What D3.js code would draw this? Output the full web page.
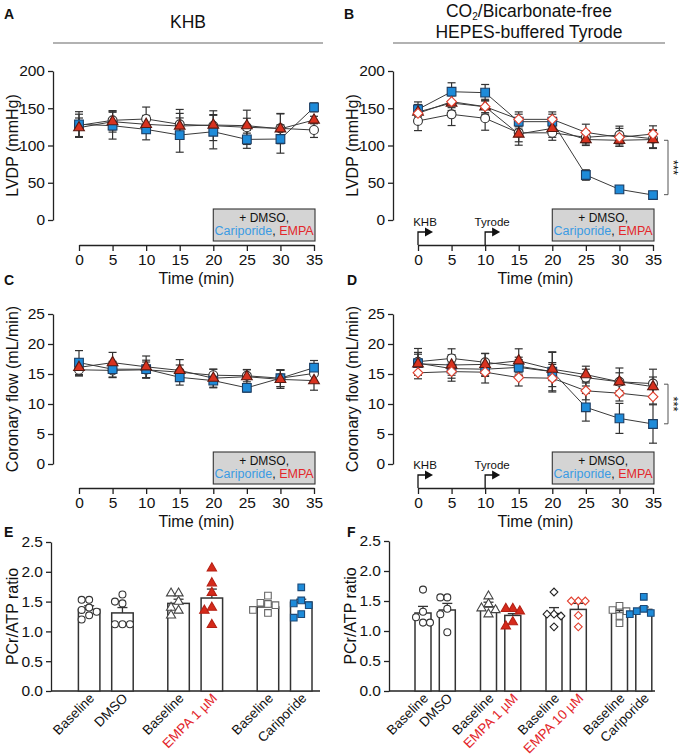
<!DOCTYPE html>
<html><head><meta charset="utf-8">
<script src="https://cdn.jsdelivr.net/npm/d3@7"></script>
<style>
body{margin:0;background:#fff;}
svg{display:block;font-family:"Liberation Sans",Arial,Helvetica,sans-serif;}
</style></head><body>
<svg id="c" width="680" height="756"></svg>
<script>
// ---------------- DATA ----------------
const times = [0,5,10,15,20,25,30,35];
const lvdpTicks = [0,50,100,150,200];
const flowTicks = [0,5,10,15,20,25];
const ratioTicks = [0,0.5,1,1.5,2,2.5];

// Panel A: LVDP, KHB
const aDmso = [127,133.8,135.6,128.4,126.6,124.4,123,120.8];
const aDmsoSem = [15,13,16,20,20,23,20,10];
const aCari = [128.4,126.6,121.6,114,118.5,108.2,108.7,151.2];
const aCariSem = [17,18,14,23,23,12,19,6];
const aEmpa = [123.9,132,128.4,126.1,127.5,126.6,122.4,134.2];
const aEmpaSem = [13,14,12,17,13,10,20,5];

// Panel B: LVDP, Tyrode
const bDmso = [133,141.8,136.5,117,117,111,114,109];
const bDmsoSem = [13,15,16,12,10,9,12,12];
const bCari = [148.5,172.2,170.9,132,132,60.4,41.1,33.5];
const bCariSem = [10,12,11,10,10,7,4,3];
const bEmpa1 = [145,157,152,115.4,123,108,107,108];
const bEmpa1Sem = [10,10,10,15,12,8,8,12];
const bEmpa10 = [143.2,158.8,152.1,135.1,135.1,117.6,111,115.4];
const bEmpa10Sem = [8,8,8,10,10,11,12,11];

// Panel C: coronary flow, KHB
const cDmso = [15.7,15.6,15.7,15.3,14.8,14.7,14.3,15.1];
const cDmsoSem = [1.0,1.2,1.3,1.2,1.0,1.0,1.4,1.2];
const cCari = [16.9,15.8,15.8,14.45,13.9,12.7,14.3,16.05];
const cCariSem = [2.0,1.3,1.5,1.3,1.2,0.7,1.4,1.2];
const cEmpa = [16.1,16.9,16.2,15.6,14.3,14.55,14.1,13.9];
const cEmpaSem = [1.4,1.7,1.8,1.8,1.5,1.2,1.5,1.6];

// Panel D: coronary flow, Tyrode
const dDmso = [17.05,17.6,16.95,16.3,15.4,14.4,13.7,13.4];
const dDmsoSem = [2.2,1.6,1.5,1.5,1.5,1.4,2.3,2.4];
const dCari = [16.8,15.9,15.8,16.1,15.4,9.45,7.6,6.67];
const dCariSem = [1.5,1.6,1.2,1.3,3.2,2.3,2.5,3.2];
const dEmpa1 = [16.7,16.5,16.6,17.2,15.8,14.9,13.7,12.9];
const dEmpa1Sem = [1.9,1.7,1.8,2.0,2.9,1.4,1.5,1.6];
const dEmpa10 = [15.2,15.4,15.3,14.4,14.3,12.2,11.8,11.2];
const dEmpa10Sem = [1.0,1.6,1.8,1.4,2.3,1.5,1.3,1.2];

// Panel E: PCr/ATP, KHB
const eGroups = ["DMSO","EMPA","Cariporide"];
const eLabels = ["Baseline","DMSO","Baseline","EMPA 1 µM","Baseline","Cariporide"];
const eMeans = [1.37,1.31,1.47,1.56,1.41,1.49];
const eSems = [0.06,0.09,0.07,0.15,0.05,0.05];
const ePoints = [
  [1.53,1.53,1.40,1.36,1.33,1.27,1.20],
  [1.62,1.50,1.47,1.12,1.12,1.12],
  [1.64,1.64,1.50,1.40,1.35,1.27],
  [2.06,1.81,1.65,1.40,1.35,1.11],
  [1.60,1.48,1.46,1.44,1.36,1.31],
  [1.74,1.52,1.47,1.44,1.29,1.23]
];

// Panel F: PCr/ATP, Tyrode
const fGroups = ["DMSO","EMPA 1","EMPA 10","Cariporide"];
const fLabels = ["Baseline","DMSO","Baseline","EMPA 1 µM","Baseline","EMPA 10 µM","Baseline","Cariporide"];
const fMeans = [1.30,1.35,1.40,1.26,1.29,1.36,1.30,1.36];
const fSems = [0.11,0.11,0.08,0.03,0.10,0.10,0.04,0.04];
const fPoints = [
  [1.69,1.32,1.23,1.14,1.14],
  [1.56,1.56,1.37,1.28,0.98],
  [1.58,1.45,1.38,1.35,1.28],
  [1.37,1.37,1.33,1.15,1.08],
  [1.65,1.28,1.28,1.25,1.07],
  [1.50,1.50,1.50,1.26,1.07],
  [1.42,1.35,1.33,1.25,1.13],
  [1.57,1.37,1.33,1.30,1.28]
];

// ---------------- STYLES ----------------
const RED = "#d8321f", BLUE = "#1e8bd9", AX = "#222";
const STY = {
  dmso:   {type:"circle",   fill:"#fff", stroke:"#333", size:62},
  cari:   {type:"square",   fill:BLUE,   stroke:"#1d3d62", size:76},
  empa1:  {type:"triangle", fill:RED,    stroke:"#5a1a12", size:50},
  empa10: {type:"diamond",  fill:"#fff", stroke:"#e2402f", size:48},
  oCircle:  {type:"circle",   fill:"#fff", stroke:"#333", size:38},
  oTri:     {type:"triangle", fill:"#fff", stroke:"#444", size:36},
  rTri:     {type:"triangle", fill:"#d62a1b", stroke:"#b52014", size:38},
  oSquare:  {type:"square",   fill:"#fff", stroke:"#666", size:44},
  bSquare:  {type:"square",   fill:BLUE,   stroke:"#1d4a78", size:44},
  oDiamond: {type:"diamond",  fill:"#fff", stroke:"#222", size:30},
  rDiamond: {type:"diamond",  fill:"#fff", stroke:"#e2402f", size:30}
};
const symType = {circle:d3.symbolCircle, square:d3.symbolSquare, triangle:d3.symbolTriangle, diamond:d3.symbolSquare};
const TICKFS = 15.5;

const svg = d3.select("#c");

function marker(g, st, cx, cy){
  g.append("path")
    .attr("d", d3.symbol().type(symType[st.type]).size(st.size)())
    .attr("transform", `translate(${cx},${cy})` + (st.type==="diamond" ? " rotate(45)" : ""))
    .attr("fill", st.fill).attr("stroke", st.stroke).attr("stroke-width", 1.1);
}

function styleAxis(sel, fs){
  sel.select(".domain").attr("stroke", AX).attr("stroke-width", 1.3);
  sel.selectAll(".tick line").attr("stroke", AX).attr("stroke-width", 1.3);
  sel.selectAll(".tick text").attr("fill", "#111").style("font-size", fs + "px")
    .style("font-family", '"Liberation Sans",Arial,sans-serif');
}

function yTitle(text, cx, cy){
  svg.append("text").attr("transform", `translate(${cx},${cy}) rotate(-90)`)
    .attr("text-anchor","middle").style("font-size","16px").attr("fill","#111").text(text);
}

function panelLetter(t, x, y){
  svg.append("text").attr("x", x).attr("y", y).style("font-size","14px")
    .style("font-weight","bold").attr("fill","#111").text(t);
}

function linePanel(o){
  const x = d3.scaleLinear().domain([0,35]).range(o.xr);
  const y = d3.scaleLinear().domain(o.yd).range(o.yr);
  const g = svg.append("g");
  const ya = g.append("g").attr("transform", `translate(${o.yx},0)`)
    .call(d3.axisLeft(y).tickValues(o.yt).tickSize(5).tickSizeOuter(0).tickPadding(3));
  styleAxis(ya, TICKFS);
  const xa = g.append("g").attr("transform", `translate(0,${o.xy})`)
    .call(d3.axisBottom(x).tickValues(times).tickSize(6).tickSizeOuter(0).tickPadding(3));
  styleAxis(xa, TICKFS);
  g.append("text").attr("x", (o.xr[0]+o.xr[1])/2).attr("y", o.xy+39)
    .attr("text-anchor","middle").style("font-size","16px").attr("fill","#111").text("Time (min)");

  // treatment box
  const bx0 = x(20), bx1 = x(35)+1;
  g.append("rect").attr("x", bx0).attr("y", o.xy-36).attr("width", bx1-bx0).attr("height", 32)
    .attr("fill","#d4d4d4").attr("stroke","#333").attr("stroke-width",1.1);
  const bc = (bx0+bx1)/2;
  g.append("text").attr("x", bc).attr("y", o.xy-23.5).attr("text-anchor","middle")
    .style("font-size","12px").attr("fill","#111").text("+ DMSO,");
  const t2 = g.append("text").attr("x", bc).attr("y", o.xy-10).attr("text-anchor","middle").style("font-size","12.5px");
  t2.append("tspan").attr("fill","#3b9be3").text("Cariporide");
  t2.append("tspan").attr("fill","#111").text(", ");
  t2.append("tspan").attr("fill","#e3262a").text("EMPA");

  // perfusion arrows
  if (o.arrows){
    [[0,"KHB"],[10,"Tyrode"]].forEach(([t,lab])=>{
      const ax = x(t), ay = o.xy;
      g.append("path").attr("d", `M${ax},${ay} V${ay-13} H${ax+8}`)
        .attr("fill","none").attr("stroke","#111").attr("stroke-width",1.3);
      g.append("path").attr("d", `M${ax+7},${ay-17.5} L${ax+15},${ay-13} L${ax+7},${ay-8.5} Z`).attr("fill","#111");
      g.append("text").attr("x", ax+7).attr("y", ay-19).attr("text-anchor","middle")
        .style("font-size","11.5px").attr("fill","#111").text(lab);
    });
  }

  // error bars
  o.series.forEach(s=>{
    s.v.forEach((v,i)=>{
      const cx = x(times[i]), lo = y(v - s.e[i]), hi = y(v + s.e[i]);
      g.append("line").attr("x1",cx).attr("x2",cx).attr("y1",lo).attr("y2",hi).attr("stroke","#333").attr("stroke-width",1.2);
      [lo,hi].forEach(yy=> g.append("line").attr("x1",cx-4).attr("x2",cx+4).attr("y1",yy).attr("y2",yy).attr("stroke","#333").attr("stroke-width",1.2));
    });
  });
  // lines
  const line = d3.line().x((d,i)=>x(times[i])).y(d=>y(d));
  o.series.forEach(s=>{
    g.append("path").attr("d", line(s.v)).attr("fill","none").attr("stroke","#3a3a3a").attr("stroke-width",1);
  });
  // markers
  o.series.forEach(s=>{
    s.v.forEach((v,i)=> marker(g, STY[s.k], x(times[i]), y(v)));
  });

  // significance
  if (o.sig){
    const y0 = y(o.sig[0]), y1 = y(o.sig[1]), bxp = o.xr[1]+15;
    g.append("path").attr("d", `M${bxp-4},${y0} H${bxp} V${y1} H${bxp-4}`)
      .attr("fill","none").attr("stroke","#555").attr("stroke-width",1);
    g.append("text").attr("transform", `translate(${bxp+1},${(y0+y1)/2}) rotate(90)`)
      .attr("text-anchor","middle").style("font-size","13px").attr("fill","#111").text("***");
  }
  yTitle(o.title, o.yx-35, (o.yr[0]+o.yr[1])/2);
}

function barPanel(o){
  const y = d3.scaleLinear().domain([0,2.5]).range(o.yr);
  const outer = d3.scaleBand().domain(o.groups).range(o.outer);
  const inner = d3.scalePoint().domain([0,1]).range([-o.pair/2, o.pair/2]);
  const g = svg.append("g");
  const ya = g.append("g").attr("transform", `translate(${o.yx},0)`)
    .call(d3.axisLeft(y).tickValues(ratioTicks).tickFormat(d3.format(".1f")).tickSize(5).tickSizeOuter(0).tickPadding(3));
  styleAxis(ya, TICKFS);
  g.append("line").attr("x1", o.yx).attr("x2", o.xEnd).attr("y1", y(0)).attr("y2", y(0))
    .attr("stroke", AX).attr("stroke-width", 1.3);

  o.means.forEach((m,i)=>{
    const grp = o.groups[Math.floor(i/2)];
    const cx = outer(grp) + outer.bandwidth()/2 + inner(i%2);
    const w = o.bw;
    g.append("rect").attr("x", cx-w/2).attr("y", y(m)).attr("width", w).attr("height", y(0)-y(m))
      .attr("fill","#fff").attr("stroke","#333").attr("stroke-width",1.5);
    const top = y(m + o.sems[i]);
    g.append("line").attr("x1",cx).attr("x2",cx).attr("y1",y(m)).attr("y2",top).attr("stroke","#333").attr("stroke-width",1.3);
    g.append("line").attr("x1",cx-5).attr("x2",cx+5).attr("y1",top).attr("y2",top).attr("stroke","#333").attr("stroke-width",1.3);

    // dodge scatter
    const st = STY[o.styles[i]];
    const d = o.dot, placed = [];
    const offs = [0,-1,1,-2,2,-3,3];
    o.points[i].slice().sort((a,b)=>b-a).forEach(v=>{
      const py = y(v);
      let dx = 0;
      for (const k of offs){
        const cand = k*d;
        if (!placed.some(p=> Math.abs(p.dx-cand) < d*0.9 && Math.abs(p.y-py) < d)) { dx = cand; break; }
      }
      placed.push({dx, y:py});
      marker(g, st, cx+dx, py);
    });

    // label
    g.append("text").attr("transform", `translate(${cx+6},${y(0)+8}) rotate(-45)`)
      .attr("text-anchor","end").style("font-size","13.5px")
      .attr("fill", o.labels[i].startsWith("EMPA") ? "#e3262a" : "#111").text(o.labels[i]);
  });
  yTitle("PCr/ATP ratio", o.yx-33, (o.yr[0]+o.yr[1])/2);
}

// ---------------- HEADERS ----------------
svg.append("text").attr("x",188).attr("y",27.5).attr("text-anchor","middle").style("font-size","17.5px").attr("fill","#111").text("KHB");
const h2 = svg.append("text").attr("x",529).attr("y",17).attr("text-anchor","middle").style("font-size","17.5px").attr("fill","#111");
h2.append("tspan").text("CO");
h2.append("tspan").attr("dy",3).style("font-size","10px").text("2");
h2.append("tspan").attr("dy",-3).text("/Bicarbonate-free");
svg.append("text").attr("x",529).attr("y",38).attr("text-anchor","middle").style("font-size","17.5px").attr("fill","#111").text("HEPES-buffered Tyrode");
svg.append("line").attr("x1",53).attr("x2",323).attr("y1",43).attr("y2",43).attr("stroke","#999").attr("stroke-width",1.5);
svg.append("line").attr("x1",393).attr("x2",665).attr("y1",43).attr("y2",43).attr("stroke","#999").attr("stroke-width",1.5);

// ---------------- PANELS ----------------
linePanel({xr:[79,314], yx:53, xy:245, yd:[0,200], yr:[220,71], yt:lvdpTicks, title:"LVDP (mmHg)",
  series:[{k:"dmso",v:aDmso,e:aDmsoSem},{k:"cari",v:aCari,e:aCariSem},{k:"empa1",v:aEmpa,e:aEmpaSem}]});
linePanel({xr:[418,653], yx:393, xy:245, yd:[0,200], yr:[220,71], yt:lvdpTicks, title:"LVDP (mmHg)", arrows:true, sig:[107,34],
  series:[{k:"dmso",v:bDmso,e:bDmsoSem},{k:"cari",v:bCari,e:bCariSem},{k:"empa1",v:bEmpa1,e:bEmpa1Sem},{k:"empa10",v:bEmpa10,e:bEmpa10Sem}]});
linePanel({xr:[79,314], yx:53, xy:488, yd:[0,25], yr:[464,314], yt:flowTicks, title:"Coronary flow (mL/min)",
  series:[{k:"dmso",v:cDmso,e:cDmsoSem},{k:"cari",v:cCari,e:cCariSem},{k:"empa1",v:cEmpa,e:cEmpaSem}]});
linePanel({xr:[418,653], yx:393, xy:488, yd:[0,25], yr:[464,314], yt:flowTicks, title:"Coronary flow (mL/min)", arrows:true, sig:[13.3,6.7],
  series:[{k:"dmso",v:dDmso,e:dDmsoSem},{k:"cari",v:dCari,e:dCariSem},{k:"empa1",v:dEmpa1,e:dEmpa1Sem},{k:"empa10",v:dEmpa10,e:dEmpa10Sem}]});

barPanel({yx:51, xEnd:320, yr:[691,542], groups:eGroups, outer:[61.1,329.3], pair:33.3, bw:21.5, dot:7.5,
  means:eMeans, sems:eSems, points:ePoints, labels:eLabels,
  styles:["oCircle","oCircle","oTri","rTri","oSquare","bSquare"]});
barPanel({yx:389, xEnd:655, yr:[691,541], groups:fGroups, outer:[402.4,664.4], pair:24.3, bw:16, dot:7,
  means:fMeans, sems:fSems, points:fPoints, labels:fLabels,
  styles:["oCircle","oCircle","oTri","rTri","oDiamond","rDiamond","oSquare","bSquare"]});

panelLetter("A",4,18.5); panelLetter("B",344,18.5);
panelLetter("C",4,285); panelLetter("D",347,285);
panelLetter("E",4,537); panelLetter("F",347,537);
</script>
</body></html>
